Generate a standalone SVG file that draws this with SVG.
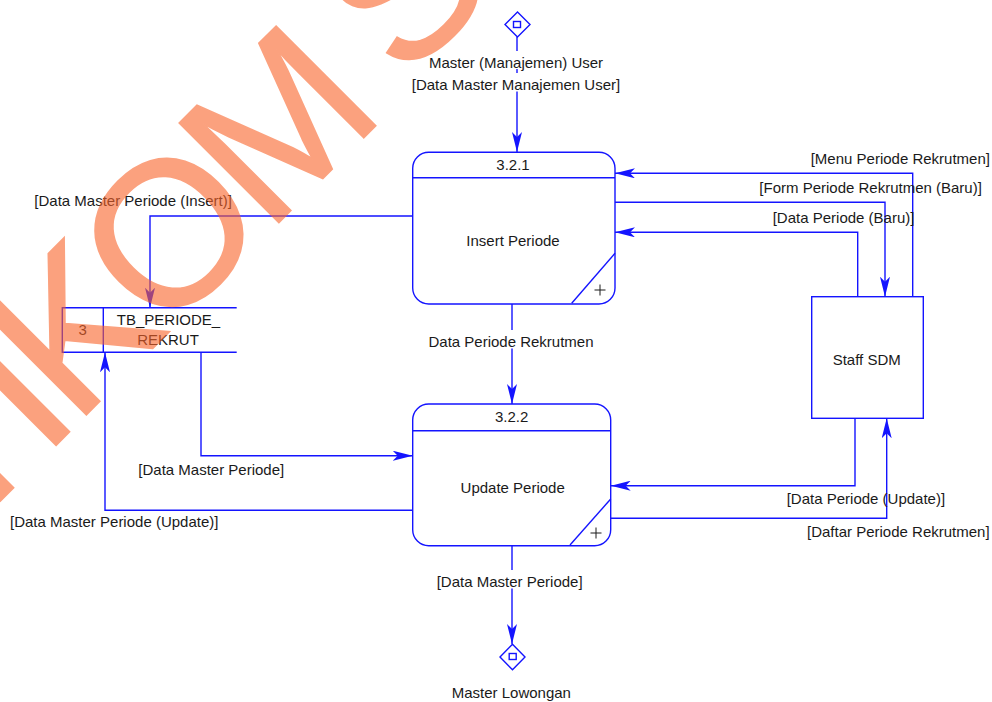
<svg xmlns="http://www.w3.org/2000/svg" width="992" height="702" viewBox="0 0 992 702">
  <style>
    .ln { fill: none; stroke: #1414ff; stroke-width: 1.4; }
    .box { fill: #ffffff; stroke: #1414ff; stroke-width: 1.4; }
    .t { font-family: "Liberation Sans", Arial, sans-serif; font-size: 15px; fill: #1a1a1a; }
    .c { text-anchor: middle; }
    .bg { fill: #ffffff; }
    .plus { stroke: #1a1a1a; stroke-width: 1; }
    .wm { font-family: "Liberation Sans", Arial, sans-serif; font-size: 205px; letter-spacing: -12px; fill: #fa642a; stroke: #fa642a; stroke-width: 1.5; opacity: 0.6; }
  </style>
  <defs>
    <marker id="arrow" viewBox="0 0 20 10" markerWidth="20" markerHeight="10" refX="20" refY="5" orient="auto" markerUnits="userSpaceOnUse">
      <path d="M20,5 L0,0 L5,5 L0,10 Z" fill="#1414ff"/>
    </marker>
  </defs>

  <rect width="992" height="702" fill="#ffffff"/>

  <!-- connectors -->
  <g id="connectors">
    <path class="ln" d="M517,37 V152" marker-end="url(#arrow)"/>
    <path class="ln" d="M512,304 V404" marker-end="url(#arrow)"/>
    <path class="ln" d="M512,546 V644" marker-end="url(#arrow)"/>
    <path class="ln" d="M413,216 H150 V307.7" marker-end="url(#arrow)"/>
    <path class="ln" d="M201,352.3 V455.7 H412.7" marker-end="url(#arrow)"/>
    <path class="ln" d="M412.7,510.3 H105 V352.3" marker-end="url(#arrow)"/>
    <path class="ln" d="M912.7,296.7 V173.3 H615" marker-end="url(#arrow)"/>
    <path class="ln" d="M615,202.3 H885 V296.7" marker-end="url(#arrow)"/>
    <path class="ln" d="M857.7,296.7 V232.3 H615" marker-end="url(#arrow)"/>
    <path class="ln" d="M855,418.3 V485.7 H610.7" marker-end="url(#arrow)"/>
    <path class="ln" d="M610.7,518.3 H886.7 V418.3" marker-end="url(#arrow)"/>

    <!-- flow labels -->
    <rect class="bg" x="426" y="51" width="180" height="18"/>
    <text class="t c" x="516" y="67.5">Master (Manajemen) User</text>
    <rect class="bg" x="410" y="73" width="212" height="18.5"/>
    <text class="t c" x="516" y="90">[Data Master Manajemen User]</text>
    <rect class="bg" x="427" y="330" width="168" height="18.5"/>
    <text class="t c" x="511" y="347">Data Periode Rekrutmen</text>
    <rect class="bg" x="436" y="570" width="149" height="18.5"/>
    <text class="t" x="436.7" y="586.7">[Data Master Periode]</text>

    <text class="t" x="34.3" y="206">[Data Master Periode (Insert)]</text>
    <text class="t" x="138.3" y="475">[Data Master Periode]</text>
    <text class="t" x="10" y="527.3">[Data Master Periode (Update)]</text>
    <text class="t" x="810.7" y="164">[Menu Periode Rekrutmen]</text>
    <text class="t" x="759.3" y="193.3">[Form Periode Rekrutmen (Baru)]</text>
    <text class="t" x="772.7" y="223.3">[Data Periode (Baru)]</text>
    <text class="t" x="786.7" y="504">[Data Periode (Update)]</text>
    <text class="t" x="807" y="536.7">[Daftar Periode Rekrutmen]</text>
  </g>

  <!-- external link: Master (Manajemen) User -->
  <g id="link-master-user">
    <path class="box" d="M517.5,12 L530,24.5 L517.5,37 L505,24.5 Z"/>
    <rect class="box" x="513.5" y="21.5" width="7" height="6"/>
  </g>

  <!-- external link: Master Lowongan -->
  <g id="link-master-lowongan">
    <path class="box" d="M512.5,644.3 L525,657 L512.5,669.7 L500,657 Z"/>
    <rect class="box" x="509.2" y="653.5" width="7" height="6"/>
    <text class="t" x="451.7" y="698">Master Lowongan</text>
  </g>

  <!-- process 3.2.1 -->
  <g id="proc-321">
    <rect class="box" x="412.7" y="152.3" width="202.3" height="151.7" rx="16" ry="16"/>
    <line class="ln" x1="412.7" y1="177.7" x2="615" y2="177.7"/>
    <line class="ln" x1="571.7" y1="303.3" x2="615" y2="253.3"/>
    <line class="plus" x1="594.5" y1="290" x2="605.5" y2="290"/>
    <line class="plus" x1="600" y1="284.5" x2="600" y2="295.5"/>
    <text class="t c" x="513" y="170">3.2.1</text>
    <text class="t c" x="513" y="246">Insert Periode</text>
  </g>

  <!-- process 3.2.2 -->
  <g id="proc-322">
    <rect class="box" x="412.7" y="404" width="198" height="141.7" rx="16" ry="16"/>
    <line class="ln" x1="412.7" y1="430.7" x2="610.7" y2="430.7"/>
    <line class="ln" x1="570" y1="545" x2="610.7" y2="499"/>
    <line class="plus" x1="590.5" y1="533" x2="601.5" y2="533"/>
    <line class="plus" x1="596" y1="527.5" x2="596" y2="538.5"/>
    <text class="t c" x="511.7" y="421.7">3.2.2</text>
    <text class="t c" x="512.7" y="492.7">Update Periode</text>
  </g>

  <!-- external entity: Staff SDM -->
  <g id="staff-sdm">
    <rect class="box" x="811.7" y="296.7" width="111.6" height="121.6"/>
    <text class="t c" x="866.7" y="365">Staff SDM</text>
  </g>

  <!-- data store 3: TB_PERIODE_REKRUT -->
  <g id="store-3">
    <rect x="62.3" y="307.7" width="174.4" height="44.6" fill="#ffffff"/>
    <path class="ln" d="M236.7,307.7 H62.3 V352.3 H236.7 M103.3,307.7 V352.3"/>
    <text class="t c" x="82.7" y="335">3</text>
    <text class="t c" x="168.5" y="325">TB_PERIODE_</text>
    <text class="t c" x="168" y="345">REKRUT</text>
  </g>

  <!-- watermark -->
  <g id="watermark">
    <text class="wm" transform="translate(-125.5,626.9) rotate(-45)">STIKOM <tspan dy="-10">SURABAYA</tspan></text>
  </g>
</svg>
